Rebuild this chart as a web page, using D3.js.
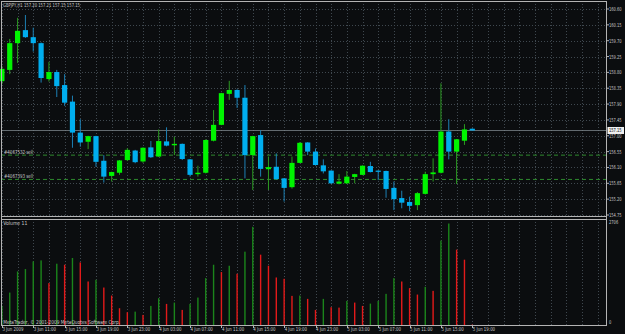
<!DOCTYPE html>
<html>
<head>
<meta charset="utf-8">
<script src="https://cdn.jsdelivr.net/npm/d3@7"></script>
<style>
  html, body { margin: 0; padding: 0; background: #0b0d0f; }
  svg { display: block; }
  text { font-family: "DejaVu Sans", sans-serif; fill: #c8c8c8; }
</style>
</head>
<body>
<div id="chart"></div>
<script>
// GBPJPY H1 bars, 3 Jun 07:00 .. 5 Jun 19:00
const opens  = [158.55,158.87,159.63,160.00,159.80,159.63,158.61,158.81,158.44,157.97,157.09,156.83,156.99,156.29,155.86,155.95,156.31,156.58,156.27,156.67,156.41,156.84,156.73,156.77,156.33,155.91,155.95,156.86,157.31,158.19,158.30,158.08,156.45,157.02,156.05,156.12,155.79,155.54,156.23,156.81,156.55,156.16,156.01,155.64,155.65,155.83,155.89,156.14,156.01,156.00,155.52,155.23,155.12,155.03,155.35,155.91,155.95,157.12,156.55,156.86,157.20];
const highs  = [158.98,159.75,160.35,160.43,160.07,159.65,159.10,158.87,158.75,158.14,157.47,157.00,157.00,156.45,155.98,156.31,156.65,156.60,156.67,156.85,157.18,157.24,156.97,156.78,156.34,156.15,156.90,157.73,158.22,158.56,158.32,158.44,157.00,157.16,156.41,156.50,155.80,156.41,156.82,156.82,156.64,156.33,156.02,155.91,156.00,155.92,156.16,156.26,156.02,156.01,155.70,155.44,155.27,155.40,155.98,156.36,158.49,157.47,156.91,157.33,157.21];
const lows   = [158.47,158.75,159.07,159.78,159.39,158.51,158.54,158.10,157.85,156.66,156.69,156.62,156.12,155.67,155.70,155.89,156.28,156.22,156.23,156.37,156.40,156.70,156.45,156.31,155.84,155.84,155.93,156.84,157.30,158.02,157.79,155.79,155.46,155.84,155.46,155.75,155.13,155.50,156.22,156.45,156.15,155.93,155.63,155.62,155.63,155.65,155.88,155.96,155.74,155.24,154.89,154.94,154.86,154.89,155.33,155.70,155.93,156.33,155.63,156.74,157.15];
const closes = [158.90,159.63,159.98,159.80,159.63,158.64,158.81,158.41,157.94,157.09,156.81,156.99,156.26,155.84,155.97,156.30,156.60,156.25,156.66,156.39,156.85,156.72,156.77,156.34,155.89,155.95,156.88,157.31,158.21,158.30,158.08,156.45,156.99,156.06,156.11,155.77,155.52,156.23,156.80,156.55,156.17,155.99,155.65,155.70,155.84,155.91,156.15,155.97,155.98,155.49,155.20,155.10,155.01,155.37,155.91,155.96,157.12,156.55,156.90,157.18,157.15];
const volumes = [490,832,1374,1435,1631,1657,1075,1572,1546,1719,1605,1116,1160,961,755,430,327,343,258,490,688,541,575,387,541,704,1203,1546,1358,1520,1314,1881,2518,1804,1520,1219,1185,747,755,670,387,670,456,446,618,575,490,549,618,799,1203,1116,946,781,979,876,2165,2603,1933,1675,11];

const priceTicks = [160.60,160.15,159.70,159.25,158.80,158.35,157.90,157.45,157.00,156.55,156.10,155.65,155.20,154.75];
const timeLabels = ["3 Jun 2009","3 Jun 11:00","3 Jun 15:00","3 Jun 19:00","3 Jun 23:00","4 Jun 03:00","4 Jun 07:00","4 Jun 11:00","4 Jun 15:00","4 Jun 19:00","4 Jun 23:00","5 Jun 03:00","5 Jun 07:00","5 Jun 11:00","5 Jun 15:00","5 Jun 19:00"];
const timeLabelBars = [0,4,8,12,16,20,24,28,32,36,40,44,48,52,56,60];
const orders = [{ label: "#4067532 sell", price: 156.45 }, { label: "#4067393 sell", price: 155.76 }];
const bid = 157.15;
const volMax = 2706;

const W = 625, H = 334;
const left = 1, right = 606;
const mainTop = 1, mainBottom = 216, volTop = 218.5, volBottom = 325;

const svg = d3.select("#chart").append("svg")
    .attr("width", W).attr("height", H);

svg.append("rect").attr("width", W).attr("height", H).attr("fill", "#0b0d0f");

const x = d3.scaleLinear().domain([0, 60]).range([1.9, 472.3]);
const y = d3.scaleLinear().domain([154.75, 160.60]).range([215, 9]);
const yv = d3.scaleLinear().domain([0, volMax]).range([volBottom, 219.5]);

const frameColor = "#b4b4b4";
const gridColor = "#3f484f";

// small narrow label: natural glyphs squeezed horizontally
function smallText(g, tx, ty, str, sx, color) {
    return g.append("text")
        .attr("transform", `translate(${tx},${ty}) scale(${sx},1)`)
        .style("font-size", "5.5px")
        .style("fill", color || "#c8c8c8")
        .text(str);
}

// --- grid ---
const grid = svg.append("g").attr("stroke", gridColor).attr("stroke-dasharray", "1,2")
    .attr("shape-rendering", "crispEdges");
const gridBars = d3.range(0, 77, 2);
grid.selectAll(".vg").data(gridBars).join("line")
    .attr("x1", d => Math.round(x(d)) + 0.5).attr("x2", d => Math.round(x(d)) + 0.5)
    .attr("y1", mainTop).attr("y2", mainBottom);
grid.selectAll(".vg2").data(gridBars).join("line")
    .attr("x1", d => Math.round(x(d)) + 0.5).attr("x2", d => Math.round(x(d)) + 0.5)
    .attr("y1", volTop).attr("y2", volBottom);
grid.selectAll(".hg").data(priceTicks).join("line")
    .attr("x1", left).attr("x2", right)
    .attr("y1", d => Math.round(y(d)) + 0.5).attr("y2", d => Math.round(y(d)) + 0.5);

// --- order lines ---
orders.forEach(o => {
    svg.append("line")
        .attr("x1", left).attr("x2", right)
        .attr("y1", y(o.price)).attr("y2", y(o.price))
        .attr("stroke", "#2f8a2f").attr("stroke-dasharray", "4,3");
    svg.append("text")
        .attr("x", 4).attr("y", y(o.price) - 1)
        .attr("textLength", 29).attr("lengthAdjust", "spacingAndGlyphs")
        .style("font-size", "5.5px")
        .text(o.label);
});

// --- bid line ---
svg.append("line")
    .attr("x1", left).attr("x2", right)
    .attr("y1", y(bid)).attr("y2", y(bid))
    .attr("stroke", "#7c868c").attr("stroke-width", 0.8);

// --- candles ---
const bars = d3.range(opens.length).map(i => ({
    i, o: opens[i], h: highs[i], l: lows[i], c: closes[i], v: volumes[i]
}));
const bodyW = 5.2;

svg.selectAll(".wick").data(bars).join("line")
    .attr("x1", d => x(d.i)).attr("x2", d => x(d.i))
    .attr("y1", d => y(d.h)).attr("y2", d => y(d.l))
    .attr("stroke", d => d.c >= d.o ? "#2c9a22" : "#1d80b4")
    .attr("stroke-width", 1);

svg.selectAll(".body").data(bars).join("rect")
    .attr("x", d => x(d.i) - bodyW / 2)
    .attr("width", bodyW)
    .attr("y", d => y(Math.max(d.o, d.c)))
    .attr("height", d => Math.max(1.2, Math.abs(y(d.o) - y(d.c))))
    .attr("fill", d => d.c >= d.o ? "#00f400" : "#00aeef");

// --- volumes ---
svg.selectAll(".vol").data(bars).join("rect")
    .attr("x", d => x(d.i) - 0.7)
    .attr("width", 1.4)
    .attr("y", d => yv(d.v))
    .attr("height", d => yv(0) - yv(d.v))
    .attr("fill", (d, i) => (i === 0 || d.v > volumes[i - 1]) ? "#1b851b" : "#e31a1a");

// --- frame ---
const frame = svg.append("g").attr("stroke", frameColor).attr("stroke-width", 1)
    .attr("shape-rendering", "crispEdges");
[[left, mainTop + 0.5, right, mainTop + 0.5],
 [left + 0.5, mainTop, left + 0.5, volBottom],
 [right + 0.5, mainTop, right + 0.5, volBottom + 0.5],
 [left, mainBottom + 0.5, right, mainBottom + 0.5],
 [left, volTop + 0.5, right, volTop + 0.5],
 [left, volBottom + 0.5, right + 1, volBottom + 0.5]
].forEach(([x1, y1, x2, y2]) => frame.append("line")
    .attr("x1", x1).attr("y1", y1).attr("x2", x2).attr("y2", y2));

// --- price axis ---
const pa = svg.append("g");
pa.selectAll("line").data(priceTicks).join("line")
    .attr("x1", right).attr("x2", right + 3)
    .attr("y1", d => y(d)).attr("y2", d => y(d))
    .attr("stroke", frameColor);
priceTicks.forEach(p => smallText(pa, 609, y(p) + 2, p.toFixed(2), 0.66));

// bid price tag
svg.append("rect").attr("x", 607.5).attr("y", y(bid) - 3.5).attr("width", 16.5).attr("height", 7)
    .attr("fill", "#f0f0f0");
smallText(svg, 609, y(bid) + 2, bid.toFixed(2), 0.66, "#000");

// volume axis
smallText(svg, 609, 224, String(volMax), 0.66);
smallText(svg, 609, 324, "0", 0.66);

// --- time axis ---
const ta = svg.append("g");
ta.selectAll("line").data(timeLabelBars).join("line")
    .attr("x1", d => Math.round(x(d)) + 0.5).attr("x2", d => Math.round(x(d)) + 0.5)
    .attr("y1", volBottom).attr("y2", volBottom + 3)
    .attr("stroke", frameColor);
ta.selectAll("text").data(timeLabels).join("text")
    .attr("x", (d, i) => Math.max(1.7, x(timeLabelBars[i]) + 0.5))
    .attr("y", 330.7)
    .attr("textLength", (d, i) => i === 0 ? 21 : 22.3).attr("lengthAdjust", "spacingAndGlyphs")
    .style("font-size", "5.5px")
    .text(d => d);

// --- captions ---
svg.append("text").attr("x", 3).attr("y", 7.2)
    .attr("textLength", 77).attr("lengthAdjust", "spacingAndGlyphs")
    .style("font-size", "5.5px")
    .text("GBPJPY,H1 157.20 157.21 157.15 157.15");
svg.append("text").attr("x", 3.3).attr("y", 225.3)
    .attr("textLength", 24).attr("lengthAdjust", "spacingAndGlyphs")
    .style("font-size", "5.5px")
    .text("Volume 11");
svg.append("text").attr("x", 3.3).attr("y", 323.6)
    .attr("textLength", 116.7).attr("lengthAdjust", "spacingAndGlyphs")
    .style("font-size", "5.5px")
    .text("MetaTrader, © 2001-2009 MetaQuotes Software Corp.");
</script>
</body>
</html>
